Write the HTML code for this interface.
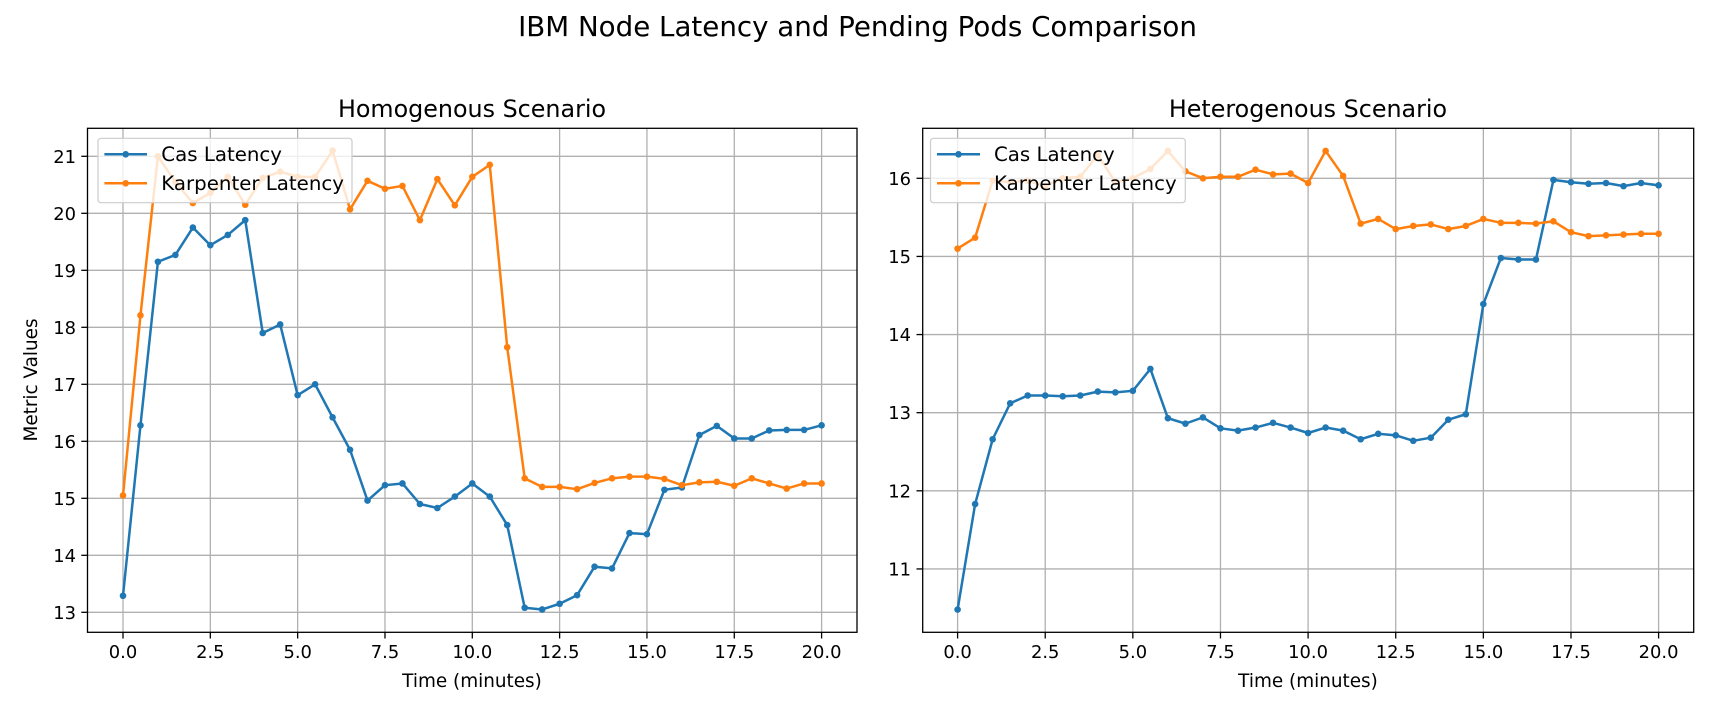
<!DOCTYPE html>
<html><head><meta charset="utf-8"><style>
html,body{margin:0;padding:0;background:#fff;}
svg{display:block;font-family:"DejaVu Sans","Liberation Sans",sans-serif;}
</style></head><body>
<svg id="s" width="1715" height="714" viewBox="0 0 1715 714" xmlns="http://www.w3.org/2000/svg">
<rect width="1715" height="714" fill="#fff"/>
<text x="857.5" y="36" font-size="27.7" text-anchor="middle">IBM Node Latency and Pending Pods Comparison</text>
<text x="472" y="117" font-size="23.8" text-anchor="middle">Homogenous Scenario</text>
<text x="1308" y="117" font-size="23.8" text-anchor="middle">Heterogenous Scenario</text>
<g id="grid" stroke="#b0b0b0" stroke-width="1.3"></g>
<g id="lines"></g>
<g fill="none" stroke="#000" stroke-width="1.3">
<rect x="87.5" y="128.3" width="769.5" height="504"/>
<rect x="922.7" y="128.3" width="771" height="504"/>
</g>
<g id="ticks" stroke="#000" stroke-width="1.3"></g>
<g font-size="17.9" text-anchor="middle">
<text x="123" y="658">0.0</text><text x="210.3" y="658">2.5</text><text x="297.7" y="658">5.0</text><text x="385" y="658">7.5</text><text x="472.3" y="658">10.0</text><text x="559.6" y="658">12.5</text><text x="647" y="658">15.0</text><text x="734.3" y="658">17.5</text><text x="821.6" y="658">20.0</text>
<text x="957.6" y="658">0.0</text><text x="1045.2" y="658">2.5</text><text x="1132.9" y="658">5.0</text><text x="1220.5" y="658">7.5</text><text x="1308.1" y="658">10.0</text><text x="1395.7" y="658">12.5</text><text x="1483.4" y="658">15.0</text><text x="1571" y="658">17.5</text><text x="1658.6" y="658">20.0</text>
</g>
<g font-size="18.4" text-anchor="middle">
<text x="472" y="687">Time (minutes)</text>
<text x="1308" y="687">Time (minutes)</text>
</g>
<g font-size="17.9" text-anchor="end">
<text x="76" y="618.8">13</text><text x="76" y="561.8">14</text><text x="76" y="504.8">15</text><text x="76" y="447.8">16</text><text x="76" y="390.8">17</text><text x="76" y="333.8">18</text><text x="76" y="276.8">19</text><text x="76" y="219.8">20</text><text x="76" y="162.8">21</text>
<text x="911" y="575.5">11</text><text x="911" y="497.3">12</text><text x="911" y="419.2">13</text><text x="911" y="341.1">14</text><text x="911" y="262.9">15</text><text x="911" y="184.8">16</text>
</g>
<text transform="translate(37,380) rotate(-90)" font-size="18.4" text-anchor="middle">Metric Values</text>
<g id="legends"></g>
<g font-size="19.8">
<text x="161.3" y="161">Cas Latency</text><text x="161.3" y="190">Karpenter Latency</text>
<text x="994" y="161">Cas Latency</text><text x="994" y="190">Karpenter Latency</text>
</g>
</svg>
<script>
var NS="http://www.w3.org/2000/svg";
function el(p,t,a){var e=document.createElementNS(NS,t);for(var k in a)e.setAttribute(k,a[k]);p.appendChild(e);return e;}
var g=document.getElementById('grid'),tk=document.getElementById('ticks'),L=document.getElementById('lines'),Lg=document.getElementById('legends');
var P=[{x0:123,xs:34.93,y0:612.3,v0:13,ys:57,l:87.5,r:857,yt:[13,14,15,16,17,18,19,20,21]},
       {x0:957.6,xs:35.05,y0:178.3,v0:16,ys:78.13,l:922.7,r:1693.7,yt:[11,12,13,14,15,16]}];
P.forEach(function(p){
 for(var t=0;t<=20;t+=2.5){var x=p.x0+t*p.xs;el(g,'line',{x1:x,x2:x,y1:128.3,y2:632.3});el(tk,'line',{x1:x,x2:x,y1:632.3,y2:638.5});}
 p.yt.forEach(function(v){var y=p.y0-(v-p.v0)*p.ys;el(g,'line',{x1:p.l,x2:p.r,y1:y,y2:y});el(tk,'line',{x1:p.l-6.2,x2:p.l,y1:y,y2:y});});
});
var D=[
[[13.29,16.28,19.15,19.27,19.75,19.44,19.62,19.88,17.9,18.05,16.81,17.0,16.42,15.85,14.96,15.23,15.26,14.9,14.83,15.03,15.26,15.03,14.53,13.08,13.05,13.15,13.3,13.8,13.77,14.39,14.37,15.15,15.19,16.11,16.27,16.05,16.05,16.19,16.2,16.2,16.28],
 [15.05,18.21,21.0,20.55,20.18,20.36,20.64,20.15,20.62,20.73,20.64,20.64,21.1,20.07,20.57,20.43,20.48,19.88,20.6,20.14,20.64,20.85,17.65,15.35,15.2,15.2,15.16,15.27,15.35,15.38,15.38,15.34,15.23,15.28,15.29,15.22,15.35,15.26,15.17,15.26,15.26]],
[[10.48,11.83,12.66,13.12,13.22,13.22,13.21,13.22,13.27,13.26,13.28,13.56,12.93,12.86,12.94,12.8,12.77,12.81,12.87,12.81,12.74,12.81,12.77,12.66,12.73,12.71,12.64,12.68,12.91,12.98,14.39,14.98,14.96,14.96,15.98,15.95,15.93,15.94,15.9,15.94,15.91],
 [15.1,15.24,15.97,15.95,15.97,15.9,16.0,16.02,16.3,15.95,16.0,16.12,16.35,16.09,16.0,16.02,16.02,16.11,16.05,16.06,15.94,16.35,16.03,15.42,15.48,15.35,15.39,15.41,15.35,15.39,15.48,15.43,15.43,15.42,15.45,15.31,15.26,15.27,15.28,15.29,15.29]]];
var C=['#1f77b4','#ff7f0e'];
D.forEach(function(ser,i){var p=P[i];ser.forEach(function(s,j){var pts=s.map(function(v,k){return [p.x0+k*0.5*p.xs,p.y0-(v-p.v0)*p.ys];});
 el(L,'polyline',{points:pts.map(function(q){return q.join(',');}).join(' '),fill:'none',stroke:C[j],'stroke-width':2.5,'stroke-linejoin':'round'});
 pts.forEach(function(q){el(L,'circle',{cx:q[0],cy:q[1],r:3.3,fill:C[j]});});});});
[[98,352,104.4,147,161.3],[930.5,1185.3,937,980,994]].forEach(function(a){
 el(Lg,'rect',{x:a[0],y:138.3,width:a[1]-a[0],height:64.4,rx:3,fill:'#fff','fill-opacity':0.8,stroke:'#cccccc','stroke-width':1.2});
 [0,1].forEach(function(j){var y=154.3+j*29;
  el(Lg,'line',{x1:a[2],x2:a[3],y1:y,y2:y,stroke:C[j],'stroke-width':2.5});
  el(Lg,'circle',{cx:(a[2]+a[3])/2,cy:y,r:3.3,fill:C[j]});
 });
});
</script>
</body></html>
